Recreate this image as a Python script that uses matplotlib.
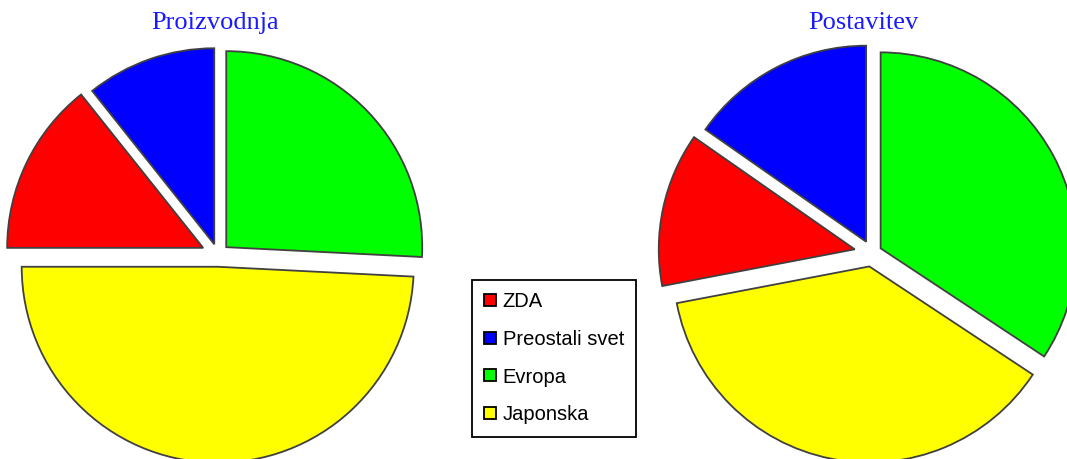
import matplotlib.pyplot as plt
from matplotlib.patches import Patch

# order as drawn: clockwise from 12 o'clock
labels = ['Evropa', 'Japonska', 'ZDA', 'Preostali svet']
colors = ['#00ff00', '#ffff00', '#ff0000', '#0000ff']
proizvodnja = [25.8, 49.2, 14.3, 10.7]
postavitev = [34.3, 37.7, 12.7, 15.3]
legend_order = ['ZDA', 'Preostali svet', 'Evropa', 'Japonska']

W, H = 1067, 459
fig = plt.figure(figsize=(W / 100, H / 100), dpi=100)
fig.patch.set_facecolor('white')


def draw_pie(values, cx, cy, r, explode):
    # cx, cy in pixels from top-left, r in pixels; one axes over the whole figure
    ax = fig.add_axes([0, 0, 1, 1])
    ax.patch.set_alpha(0)
    ax.pie(values, colors=colors, startangle=90, counterclock=False,
           explode=explode,
           wedgeprops=dict(edgecolor='#404040', linewidth=1.3))
    yb = H - cy
    ax.set_xlim(-cx / r, (W - cx) / r)
    ax.set_ylim(-yb / r, (H - yb) / r)
    ax.set_aspect('equal')
    ax.axis('off')
    return ax


ax1 = draw_pie(proizvodnja, 218, 255, 196, [0.058, 0.06, 0.084, 0.058])
ax2 = draw_pie(postavitev, 872, 253, 196, [0.05, 0.07, 0.09, 0.065])

fig.text(215 / W, 1 - 23 / H, 'Proizvodnja', ha='center', va='center',
         color='#1a1aff', fontsize=19, family='Liberation Serif')
fig.text(863 / W, 1 - 23 / H, 'Postavitev', ha='center', va='center',
         color='#1a1aff', fontsize=19, family='Liberation Serif')

handles = [Patch(facecolor=colors[labels.index(n)], edgecolor='black', linewidth=1.3)
           for n in legend_order]
leg = fig.legend(handles, legend_order, loc='upper left',
                 bbox_to_anchor=(472 / W, 1 - 280 / H),
                 prop={'family': 'Liberation Sans', 'size': 14.5},
                 frameon=True, fancybox=False, shadow=False,
                 handlelength=0.55, handleheight=0.55, handletextpad=0.35,
                 labelspacing=0.92, borderpad=0.62, borderaxespad=0)
leg.get_frame().set_edgecolor('black')
leg.get_frame().set_linewidth(1.3)
leg.get_frame().set_alpha(1)

fig.savefig('out.png', dpi=100)
